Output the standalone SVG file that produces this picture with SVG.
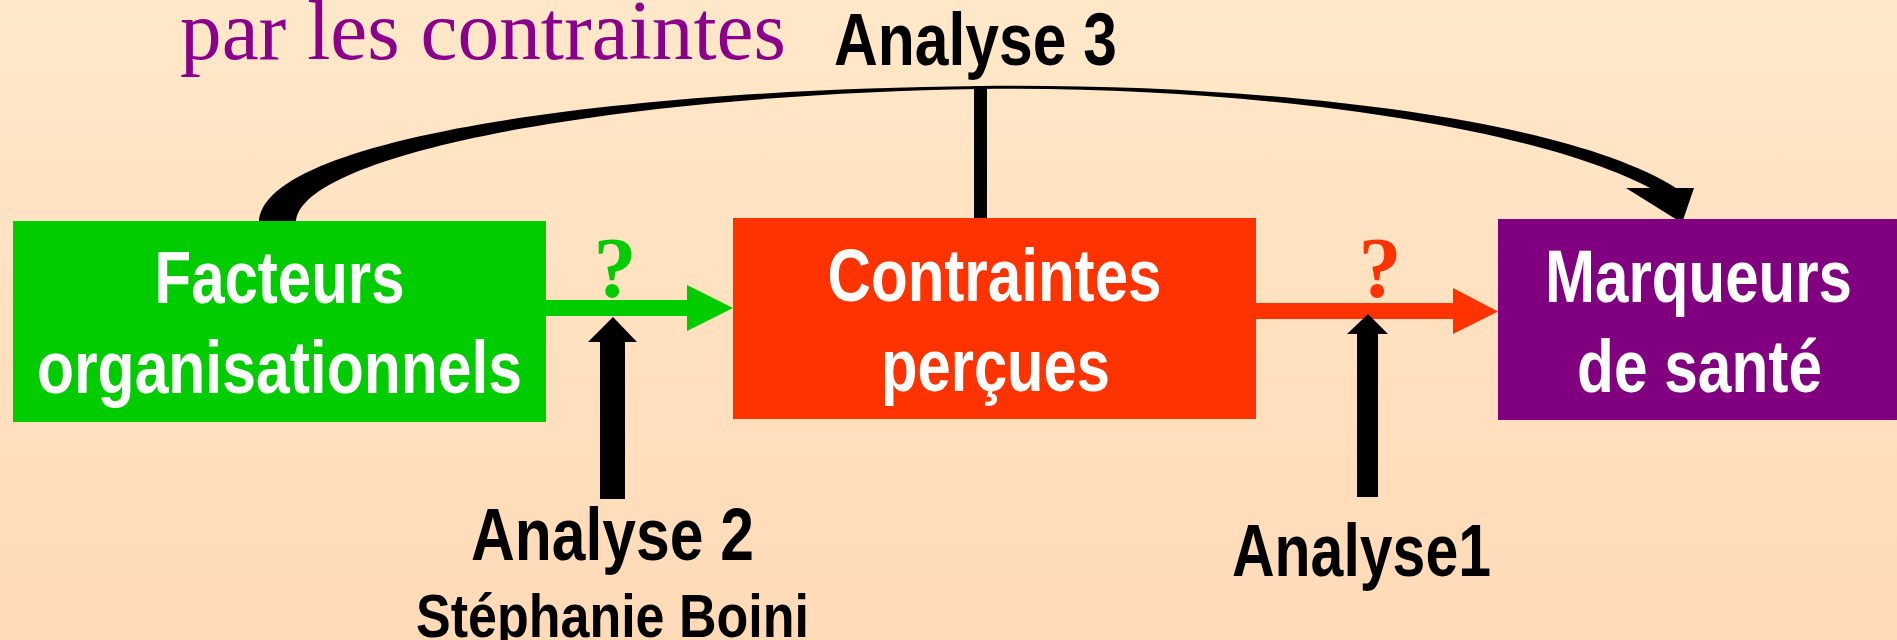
<svg xmlns="http://www.w3.org/2000/svg" width="1897" height="640" viewBox="0 0 1897 640">
  <defs>
    <linearGradient id="bg" x1="0" y1="0" x2="0" y2="1">
      <stop offset="0" stop-color="#FFE8C8"/>
      <stop offset="1" stop-color="#FFDAB7"/>
    </linearGradient>
    <style>
      .box-t { font-family: "Liberation Sans", Arial, sans-serif; font-weight: bold; font-size: 75px; fill: #FFFFFF; text-anchor: middle; }
      .lbl { font-family: "Liberation Sans", Arial, sans-serif; font-weight: bold; font-size: 75px; fill: #000000; text-anchor: middle; }
      .sub { font-family: "Liberation Sans", Arial, sans-serif; font-weight: bold; font-size: 61px; fill: #000000; text-anchor: middle; }
      .q { font-family: "Liberation Serif", "Times New Roman", serif; font-weight: bold; font-size: 86px; text-anchor: middle; }
      .title { font-family: "Liberation Serif", "Times New Roman", serif; font-size: 84px; fill: #8B008B; }
    </style>
  </defs>
  <rect x="0" y="0" width="1897" height="640" fill="url(#bg)"/>

  <text class="title" x="180" y="59" textLength="606" lengthAdjust="spacingAndGlyphs">par les contraintes</text>

  <g id="connectors">
    <!-- green arrow -->
    <rect x="546" y="300" width="142" height="16" fill="#00CC00"/>
    <polygon points="687,285 733,308 687,331" fill="#00CC00"/>
    <!-- red arrow -->
    <rect x="1256" y="303" width="198" height="16" fill="#FF3300"/>
    <polygon points="1453,288 1498,311.5 1453,334" fill="#FF3300"/>
    <!-- Analyse 2 black arrow -->
    <rect x="600" y="341" width="25" height="158" fill="#000"/>
    <polygon points="588,342 613,317 637,342" fill="#000"/>
    <!-- Analyse1 black arrow -->
    <rect x="1357" y="333" width="21" height="164" fill="#000"/>
    <polygon points="1347,334 1368,314 1388,334" fill="#000"/>
    <!-- Analyse 3 line -->
    <rect x="974" y="86" width="13" height="137" fill="#000"/>
    <!-- curved tapered arrow -->
    <path d="M259,223 C259,140 600,90 980,86 C1250,83 1560,115 1676,188 L1694,188 L1682,223 L1626,188 L1650,188 C1530,125 1250,86 980,89 C610,95 296,155 296,223 Z" fill="#000"/>
  </g>

  <g id="facteurs">
    <rect x="13" y="221" width="533" height="201" fill="#00CC00"/>
    <text class="box-t" x="279.5" y="303" textLength="250" lengthAdjust="spacingAndGlyphs">Facteurs</text>
    <text class="box-t" x="279.5" y="393" textLength="485" lengthAdjust="spacingAndGlyphs">organisationnels</text>
  </g>

  <g id="contraintes">
    <rect x="733" y="218" width="523" height="201" fill="#FF3300"/>
    <text class="box-t" x="994.5" y="301" textLength="334" lengthAdjust="spacingAndGlyphs">Contraintes</text>
    <text class="box-t" x="995.5" y="391" textLength="229" lengthAdjust="spacingAndGlyphs">perçues</text>
  </g>

  <g id="marqueurs">
    <rect x="1498" y="219" width="402" height="201" fill="#800080"/>
    <text class="box-t" x="1698.5" y="302" textLength="307" lengthAdjust="spacingAndGlyphs">Marqueurs</text>
    <text class="box-t" x="1699.5" y="392" textLength="245" lengthAdjust="spacingAndGlyphs">de santé</text>
  </g>

  <g id="q-green">
    <text class="q" x="615" y="297" fill="#00CC00">?</text>
  </g>
  <g id="q-red">
    <text class="q" x="1380" y="297" fill="#FF3300">?</text>
  </g>

  <g id="analyse3">
    <text class="lbl" x="975.5" y="65" font-size="73" textLength="283" lengthAdjust="spacingAndGlyphs">Analyse 3</text>
  </g>
  <g id="analyse2">
    <text class="lbl" x="612.5" y="560" textLength="283" lengthAdjust="spacingAndGlyphs">Analyse 2</text>
    <text class="sub" x="612.5" y="637" textLength="393" lengthAdjust="spacingAndGlyphs">Stéphanie Boini</text>
  </g>
  <g id="analyse1">
    <text class="lbl" x="1361.5" y="576" textLength="259" lengthAdjust="spacingAndGlyphs">Analyse1</text>
  </g>
</svg>
